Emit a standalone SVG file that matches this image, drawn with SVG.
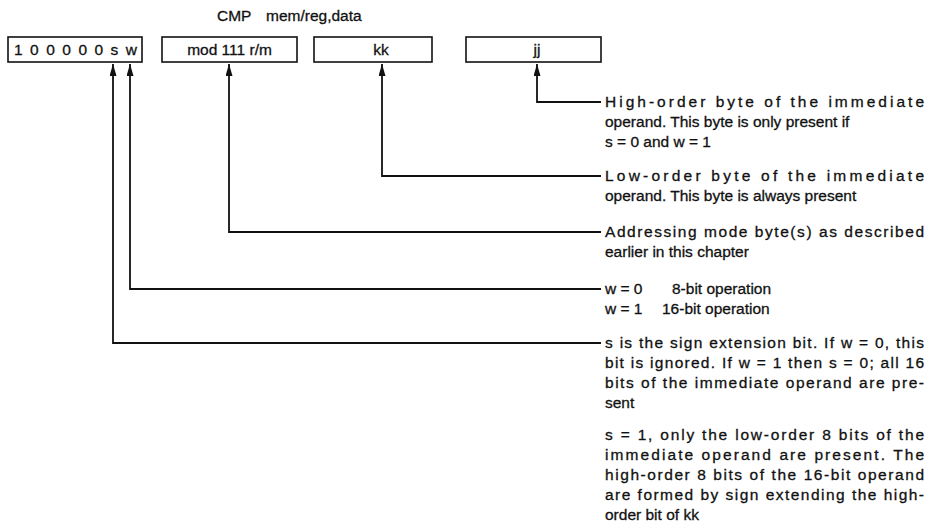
<svg xmlns="http://www.w3.org/2000/svg" width="932" height="532" viewBox="0 0 932 532">
<style>
text{font-family:"Liberation Sans",Arial,Helvetica,sans-serif;fill:#111;stroke:#111;stroke-width:0.3;}
.t{font-size:15.5px;}
.b{font-size:15.5px;}
.box{fill:#fff;stroke:#111;stroke-width:1.6;}
.c{fill:none;stroke:#111;stroke-width:1.8;}
</style>
<defs>
<marker id="ah" viewBox="0 0 12 7" refX="12" refY="3.5" markerWidth="12" markerHeight="7" markerUnits="userSpaceOnUse" orient="auto-start-reverse">
<path d="M0,0 L12,3.5 L0,7 z" fill="#111"/>
</marker>
</defs>
<rect width="932" height="532" fill="#fff"/>
<g id="title"><text class="t" x="217" y="21">CMP</text><text class="t" x="266" y="21">mem/reg,data</text></g>
<g id="opcode"><rect class="box" x="8" y="37" width="134" height="25"/><text class="b" x="14" y="55" textLength="123" lengthAdjust="spacing">100000sw</text></g>
<g id="modrm"><rect class="box" x="162" y="37" width="135" height="25"/><text class="b" x="229.5" y="55" text-anchor="middle">mod 111 r/m</text></g>
<g id="kk"><rect class="box" x="314" y="37" width="118" height="25"/><text class="b" x="381" y="55" text-anchor="middle">kk</text></g>
<g id="jj"><rect class="box" x="466" y="37" width="135" height="25"/><text class="b" x="537" y="55" text-anchor="middle">jj</text></g>
<g id="connectors">
<path class="c" d="M537,64 V102 H601" marker-start="url(#ah)"/>
<path class="c" d="M382,64 V176 H601" marker-start="url(#ah)"/>
<path class="c" d="M229,64 V232 H601" marker-start="url(#ah)"/>
<path class="c" d="M130,64 V289 H601" marker-start="url(#ah)"/>
<path class="c" d="M113,64 V343 H601" marker-start="url(#ah)"/>
</g>
<g id="desc-jj">
<text class="t" x="605" y="107" textLength="319" lengthAdjust="spacing">High-order byte of the immediate</text>
<text class="t" x="605" y="127">operand. This byte is only present if</text>
<text class="t" x="605" y="147">s = 0 and w = 1</text>
</g>
<g id="desc-kk">
<text class="t" x="605" y="181" textLength="319" lengthAdjust="spacing">Low-order byte of the immediate</text>
<text class="t" x="605" y="201">operand. This byte is always present</text>
</g>
<g id="desc-mod">
<text class="t" x="605" y="237" textLength="319" lengthAdjust="spacing">Addressing mode byte(s) as described</text>
<text class="t" x="605" y="257">earlier in this chapter</text>
</g>
<g id="desc-w">
<text class="t" x="605" y="294">w = 0</text><text class="t" x="672" y="294">8-bit operation</text>
<text class="t" x="605" y="314">w = 1</text><text class="t" x="662" y="314">16-bit operation</text>
</g>
<g id="desc-s">
<text class="t" x="605" y="348" textLength="319" lengthAdjust="spacing">s is the sign extension bit. If w = 0, this</text>
<text class="t" x="605" y="368" textLength="319" lengthAdjust="spacing">bit is ignored. If w = 1 then s = 0; all 16</text>
<text class="t" x="605" y="388" textLength="319" lengthAdjust="spacing">bits of the immediate operand are pre-</text>
<text class="t" x="605" y="408">sent</text>
<text class="t" x="605" y="440" textLength="319" lengthAdjust="spacing">s = 1, only the low-order 8 bits of the</text>
<text class="t" x="605" y="460" textLength="319" lengthAdjust="spacing">immediate operand are present. The</text>
<text class="t" x="605" y="480" textLength="319" lengthAdjust="spacing">high-order 8 bits of the 16-bit operand</text>
<text class="t" x="605" y="500" textLength="319" lengthAdjust="spacing">are formed by sign extending the high-</text>
<text class="t" x="605" y="520">order bit of kk</text>
</g>
</svg>
